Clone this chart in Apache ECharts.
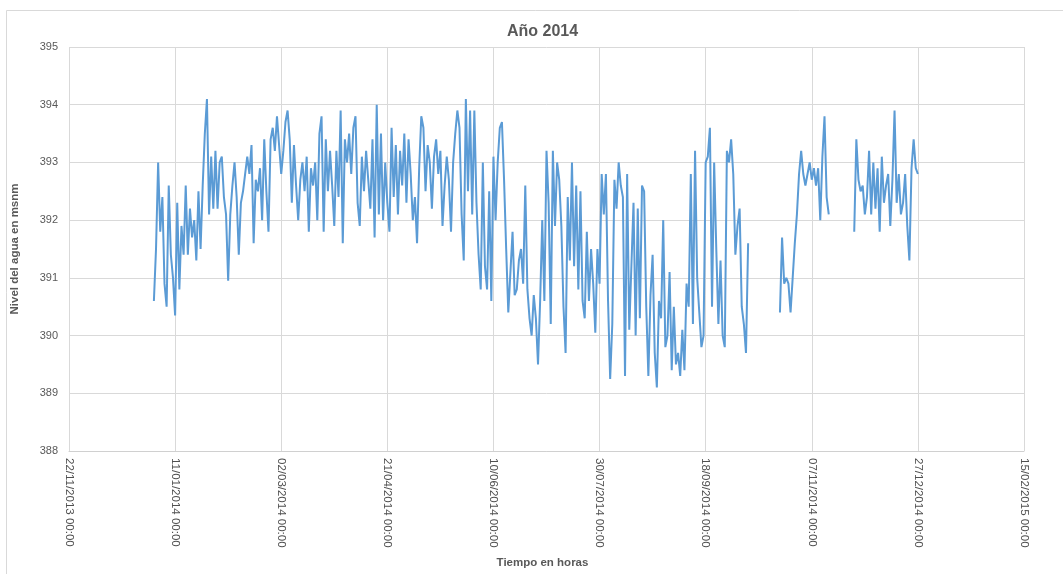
<!DOCTYPE html>
<html>
<head>
<meta charset="utf-8">
<script src="https://cdn.jsdelivr.net/npm/echarts@6/dist/echarts.min.js"></script>
<style>
html,body{margin:0;padding:0;background:#fff;}
#chart{width:1063px;height:574px;}
</style>
</head>
<body>
<div id="chart"></div>
<script>
// ---- data ----
const chartTitle = 'Año 2014';
const yAxisTitle = 'Nivel del agua en msnm';
const xAxisTitle = 'Tiempo en horas';
const axisStart = '2013-11-22';   // first x tick
const axisEnd = '2015-02-15';     // last x tick
const tickDays = 50;              // spacing of x ticks in days
const seriesStart = '2014-01-01'; // first reading
const stepDays = 1;               // one reading per day (null = no data)
const yTicks = [388, 389, 390, 391, 392, 393, 394, 395];
const levels = [
  390.6,391.5,393.0,391.8,392.4,390.9,390.5,392.6,391.4,391.0,
  390.35,392.3,390.8,391.9,391.4,392.6,391.4,392.2,391.7,392.0,
  391.3,392.5,391.5,392.6,393.5,394.1,392.1,393.1,392.2,393.2,
  392.2,393.0,393.1,392.4,392.1,390.95,392.1,392.6,393.0,392.4,
  391.4,392.3,392.5,392.8,393.1,392.8,393.3,391.6,392.7,392.5,
  392.9,392.0,393.4,392.5,391.8,393.4,393.6,393.2,393.8,393.3,
  392.8,393.2,393.7,393.9,393.4,392.3,393.3,392.6,392.0,392.7,
  393.0,392.5,393.1,391.8,392.9,392.6,393.0,392.0,393.5,393.8,
  391.8,393.4,392.5,393.2,392.6,391.9,393.2,392.4,393.9,391.6,
  393.4,393.0,393.5,392.8,393.6,393.8,392.3,391.9,393.1,392.5,
  393.2,392.7,392.2,393.4,391.7,394.0,392.1,393.5,392.0,393.0,
  392.3,391.8,393.6,392.4,393.3,392.1,393.2,392.6,393.5,392.3,
  393.4,392.8,392.0,392.4,391.6,392.9,393.8,393.6,392.5,393.3,
  393.0,392.2,393.1,393.4,392.8,393.2,391.9,392.6,393.1,392.7,
  391.8,393.0,393.5,393.9,393.6,392.1,391.3,394.1,392.5,393.9,
  392.1,393.9,392.3,391.4,390.8,393.0,391.2,390.8,392.5,390.6,
  393.1,392.0,393.0,393.6,393.7,392.7,391.5,390.4,391.1,391.8,
  390.7,390.8,391.3,391.5,390.9,392.6,390.8,390.3,390.0,390.7,
  390.3,389.5,390.6,392.0,390.6,393.2,392.3,390.2,393.2,391.9,
  393.0,392.7,391.9,390.5,389.7,392.4,391.3,393.0,391.2,392.6,
  390.8,392.5,390.6,390.3,391.8,390.6,391.5,390.9,390.05,391.5,
  390.9,392.8,392.1,392.8,390.6,389.25,390.2,392.7,392.2,393.0,
  392.6,392.4,389.3,392.8,390.1,391.2,392.3,390.0,392.2,390.3,
  392.6,392.5,390.5,389.3,390.7,391.4,389.7,389.1,390.6,390.3,
  392.0,389.8,390.0,391.1,389.4,390.5,389.5,389.7,389.3,390.1,
  389.4,390.9,390.5,392.8,390.2,393.2,391.0,390.4,389.8,390.0,
  393.0,393.1,393.6,390.5,393.0,391.5,390.2,391.3,390.0,389.8,
  393.2,393.0,393.4,392.8,391.4,391.9,392.2,390.5,390.2,389.7,
  391.6,null,null,null,null,null,null,null,null,null,
  null,null,null,null,null,390.4,391.7,390.9,391.0,390.9,
  390.4,391.0,391.6,392.1,392.8,393.2,392.8,392.6,392.8,393.0,
  392.7,392.9,392.6,392.9,392.0,393.1,393.8,392.4,392.1,null,
  null,null,null,null,null,null,null,null,null,null,
  391.8,393.4,392.7,392.5,392.6,392.1,392.4,393.2,392.1,393.0,
  392.2,392.9,391.8,393.1,392.3,392.6,392.8,391.9,392.7,393.9,
  392.3,392.8,392.1,392.3,392.8,391.9,391.3,392.9,393.4,392.9,
  392.8
];

// ---- build ----
const DAY = 86400000;
const t0 = Date.parse(axisStart + 'T00:00:00Z');
const tEnd = Date.parse(axisEnd + 'T00:00:00Z');
const s0 = (Date.parse(seriesStart + 'T00:00:00Z') - t0) / DAY;
const points = levels.map((v, i) => [s0 + i * stepDays, v]);
const pad = n => (n < 10 ? '0' : '') + n;
function fmtDay(d) {
  const dt = new Date(t0 + d * DAY);
  return pad(dt.getUTCDate()) + '/' + pad(dt.getUTCMonth() + 1) + '/' + dt.getUTCFullYear() + ' 00:00';
}

const chart = echarts.init(document.getElementById('chart'), null, {renderer: 'canvas'});
const txt = '#595959';
const font = 'Liberation Sans';
chart.setOption({
  animation: false,
  backgroundColor: '#ffffff',
  graphic: [{
    type: 'rect', left: 4, top: 8,
    shape: {width: 1070, height: 580},
    style: {fill: 'none', stroke: '#d9d9d9', lineWidth: 1},
    silent: true, z: -1
  }],
  title: {
    text: chartTitle, left: 502, top: 19,
    textStyle: {fontSize: 16, fontWeight: 'bold', color: txt, fontFamily: font}
  },
  grid: {left: 69, right: 39, top: 47, bottom: 115, containLabel: false},
  xAxis: {
    type: 'value', min: 0, max: (tEnd - t0) / DAY, interval: tickDays,
    name: xAxisTitle, nameLocation: 'middle', nameGap: 106,
    nameTextStyle: {fontSize: 11.5, fontWeight: 'bold', color: txt, fontFamily: font, padding: [0, 8, 0, 0]},
    axisLine: {show: true, onZero: false, lineStyle: {color: '#d0d0d0', width: 1}},
    axisTick: {show: false},
    axisLabel: {rotate: -90, margin: 7, fontSize: 11.5, color: '#505050', fontFamily: font, formatter: fmtDay},
    splitLine: {show: true, lineStyle: {color: '#d9d9d9', width: 1}}
  },
  yAxis: {
    type: 'value', min: yTicks[0], max: yTicks[yTicks.length - 1], interval: 1,
    name: yAxisTitle, nameLocation: 'middle', nameGap: 48, nameRotate: 90,
    nameTextStyle: {fontSize: 11.5, fontWeight: 'bold', color: txt, fontFamily: font},
    axisLine: {show: false}, axisTick: {show: false},
    axisLabel: {margin: 11, fontSize: 11, color: txt, fontFamily: font},
    splitLine: {show: true, lineStyle: {color: '#d9d9d9', width: 1}}
  },
  series: [{
    type: 'line', data: points, showSymbol: false, connectNulls: false,
    lineStyle: {color: '#5b9bd5', width: 2},
    itemStyle: {color: '#5b9bd5'}
  }]
});
</script>
</body>
</html>
